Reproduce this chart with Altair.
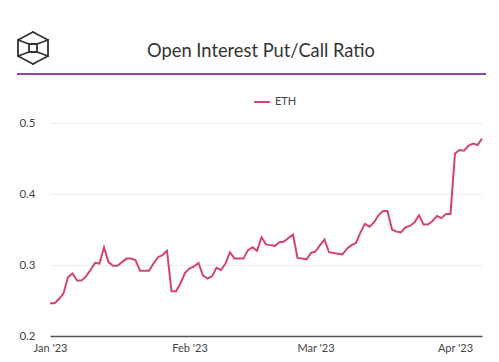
import altair as alt
import pandas as pd

TITLE = "Open Interest Put/Call Ratio"
SERIES = "ETH"
START_DATE = "2023-01-01"

ratio = [
    0.246, 0.246, 0.252, 0.260, 0.283, 0.288, 0.278, 0.278, 0.284, 0.293,
    0.303, 0.302, 0.325, 0.304, 0.299, 0.299, 0.304, 0.309, 0.309, 0.307,
    0.292, 0.292, 0.292, 0.302, 0.311, 0.314, 0.320, 0.263, 0.263, 0.274,
    0.289, 0.295, 0.298, 0.303, 0.285, 0.281, 0.284, 0.296, 0.293, 0.302,
    0.318, 0.309, 0.309, 0.309, 0.321,
    0.325, 0.320, 0.339, 0.329, 0.328, 0.327, 0.332, 0.333, 0.338, 0.343,
    0.310, 0.309, 0.308, 0.317, 0.319, 0.328, 0.336, 0.318, 0.317, 0.316,
    0.315, 0.323, 0.328, 0.331, 0.346, 0.358, 0.354, 0.360, 0.370, 0.376,
    0.376, 0.350, 0.347, 0.346, 0.353, 0.355, 0.360, 0.370, 0.357, 0.357,
    0.362, 0.369, 0.366, 0.372, 0.372,
    0.457, 0.462, 0.461, 0.468, 0.471, 0.469, 0.478,
]
dates = pd.date_range(START_DATE, periods=len(ratio), freq="D")
y_ticks = [0.2, 0.3, 0.4, 0.5]

LINE_COLOR = "#d4456e"
FONT = "Lato"

df = pd.DataFrame({"date": dates, "ratio": ratio, "series": SERIES})

x_ticks = [alt.DateTime(year=2023, month=m, date=1) for m in (1, 2, 3, 4)]

line = alt.Chart(df).mark_line(strokeWidth=2, color=LINE_COLOR).encode(
    x=alt.X(
        "date:T",
        scale=alt.Scale(nice=False),
        axis=alt.Axis(
            values=x_ticks, format="%b '%y", title=None, grid=False, ticks=False,
            domain=True, domainColor="#555555", domainWidth=1.5, labelFlush=False,
            labelPadding=6, labelFontSize=11, labelColor="#444444", labelFont=FONT,
        ),
    ),
    y=alt.Y(
        "ratio:Q",
        scale=alt.Scale(domain=[0.2, 0.5], nice=False, zero=False),
        axis=alt.Axis(
            values=y_ticks, format=".1f", title=None, domain=False, ticks=False,
            grid=True, gridColor="#eeeeee", gridWidth=1,
            labelPadding=15, labelFontSize=11.5, labelColor="#444444", labelFont=FONT,
        ),
    ),
    color=alt.Color(
        "series:N",
        scale=alt.Scale(domain=[SERIES], range=[LINE_COLOR]),
        legend=alt.Legend(
            title=None, orient="none", legendX=203, legendY=-30, padding=0,
            symbolType="stroke", symbolStrokeWidth=2, symbolSize=250,
            labelFontSize=11, labelColor="#444444", labelFont=FONT,
        ),
    ),
)

title = alt.Chart(pd.DataFrame({"t": [TITLE]})).mark_text(
    fontSize=18.3, font=FONT, color="#333333", align="center", baseline="alphabetic"
).encode(x=alt.value(211), y=alt.value(-66), text="t:N")

divider = alt.Chart(pd.DataFrame({"a": [0]})).mark_rule(
    color="#8e44b0", strokeWidth=2
).encode(x=alt.value(-33), x2=alt.value(436), y=alt.value(-49))

# logo segments in pixel space (relative to plot origin)
ox, oy = 50, 123
segs = [
    ((33, 32), (48, 40)), ((48, 40), (48, 56)), ((48, 56), (33, 64)),
    ((33, 64), (18, 56)), ((18, 56), (18, 40)), ((18, 40), (33, 32)),
    ((29, 44), (37, 44)), ((37, 44), (37, 52)), ((37, 52), (29, 52)), ((29, 52), (29, 44)),
    ((18, 40), (29, 44)), ((48, 40), (37, 44)), ((18, 56), (29, 52)), ((48, 56), (37, 52)),
]
logo_df = pd.DataFrame({
    "x1": [a[0] - ox for a, b in segs], "y1": [a[1] - oy for a, b in segs],
    "x2": [b[0] - ox for a, b in segs], "y2": [b[1] - oy for a, b in segs],
})
logo = alt.Chart(logo_df).mark_rule(color="#333333", strokeWidth=1.8, strokeCap="round").encode(
    x=alt.X("x1:Q", scale=None, axis=None), x2="x2:Q",
    y=alt.Y("y1:Q", scale=None, axis=None), y2="y2:Q",
)

chart = alt.layer(line, title, divider, logo).resolve_scale(
    x="independent", y="independent"
).properties(
    width=432, height=213, autosize="none",
    padding={"left": 42, "top": 115, "right": 9, "bottom": 25},
).configure_view(stroke=None)

chart.save("out.html", embed_options={"renderer": "svg", "actions": False})
